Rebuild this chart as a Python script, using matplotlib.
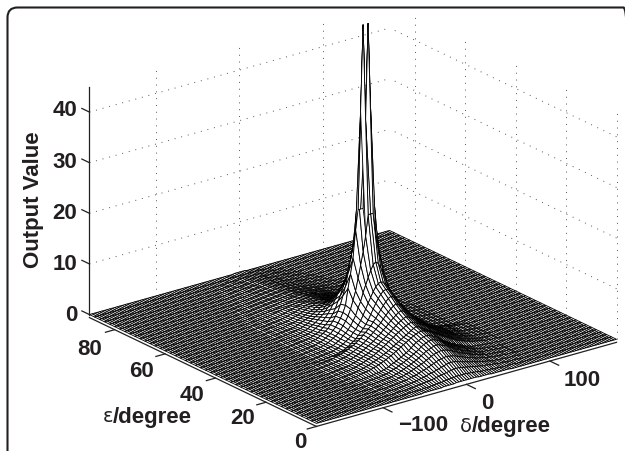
import numpy as np
import matplotlib
matplotlib.use("Agg")
from matplotlib import pyplot as plt
from matplotlib.patches import FancyBboxPatch
from matplotlib.transforms import IdentityTransform

delta_half = list(range(0, 183, 3))
eps_values = list(range(0, 92, 2))

# one row per eps, values for delta_half, each row stops where the output is flat at 0
output_rows = [
    [.3, .3, .3, .3, .3, .2, .2, .2, .2, .2, .1, .1, .1, .1, .1, .1, .1, .1],
    [.8, .8, .8, .7, .7, .6, .6, .5, .4, .4, .4, .3, .3, .2, .2, .2, .1, .1, .1, .1, .1, .1],
    [1.6, 1.6, 1.5, 1.4, 1.3, 1.2, 1.1, 1, .9, .8, .7, .6, .6, .5, .4, .4, .3, .2, .2, .2, .1, .1, .1, .1, .1],
    [2.3, 2.3, 2.2, 2, 1.9, 1.7, 1.6, 1.4, 1.3, 1.2, 1, .9, .8, .7, .6, .5, .4, .3, .3, .2, .2, .2, .1, .1, .1, .1, .1],
    [3, 2.9, 2.8, 2.7, 2.5, 2.3, 2.1, 1.9, 1.7, 1.5, 1.4, 1.2, 1, .9, .8, .7, .5, .5, .4, .3, .3, .2, .2, .2, .1, .1, .1, .1],
    [3.7, 3.6, 3.5, 3.3, 3.1, 2.8, 2.6, 2.3, 2.1, 1.9, 1.7, 1.5, 1.3, 1.1, 1, .8, .7, .6, .4, .4, .3, .3, .2, .2, .1, .1, .1, .1],
    [4.3, 4.2, 4, 3.8, 3.6, 3.3, 3, 2.7, 2.4, 2.2, 1.9, 1.7, 1.5, 1.3, 1.1, .9, .8, .6, .5, .4, .4, .3, .3, .2, .2, .1, .1, .1],
    [4.8, 4.7, 4.5, 4.3, 4, 3.6, 3.3, 3, 2.7, 2.4, 2.2, 1.9, 1.7, 1.5, 1.2, 1.1, .9, .7, .6, .5, .4, .3, .3, .2, .2, .1, .1, .1],
    [5.2, 5.1, 4.9, 4.6, 4.4, 4, 3.6, 3.2, 2.9, 2.6, 2.3, 2.1, 1.8, 1.6, 1.4, 1.1, .9, .8, .6, .5, .5, .4, .3, .3, .2, .2, .1, .1, .1],
    [5.6, 5.5, 5.3, 5.1, 4.8, 4.5, 4.2, 3.9, 3.6, 3.3, 3, 2.7, 2.4, 2.2, 1.9, 1.7, 1.5, 1.3, 1.1, 1, .8, .7, .6, .5, .4, .3, .2, .2, .1, .1, .1],
    [6, 5.8, 5.5, 5.2, 4.9, 4.6, 4.3, 4, 3.7, 3.4, 3.1, 2.8, 2.5, 2.3, 2, 1.8, 1.6, 1.4, 1.2, 1, .9, .7, .6, .5, .4, .3, .2, .2, .1, .1, .1],
    [6.4, 6.2, 6, 5.7, 5.4, 5.1, 4.8, 4.4, 4.1, 3.8, 3.4, 3.1, 2.8, 2.5, 2.2, 1.9, 1.7, 1.5, 1.3, 1.1, .9, .8, .6, .5, .4, .3, .3, .2, .2, .1, .1],
    [7, 6.8, 6.5, 6.2, 5.8, 5.4, 5, 4.6, 4.2, 3.8, 3.5, 3.1, 2.8, 2.5, 2.2, 1.9, 1.7, 1.5, 1.3, 1.1, .9, .8, .6, .5, .4, .3, .3, .2, .2, .1, .1],
    [7.7, 7.5, 7.1, 6.7, 6.3, 5.8, 5.3, 4.9, 4.4, 4, 3.6, 3.2, 2.9, 2.6, 2.3, 2, 1.8, 1.5, 1.3, 1.1, .9, .8, .7, .5, .4, .3, .3, .2, .2, .1, .1],
    [8.6, 8.3, 7.9, 7.4, 6.9, 6.3, 5.7, 5.2, 4.7, 4.2, 3.8, 3.4, 3, 2.6, 2.3, 2, 1.8, 1.5, 1.3, 1.1, .9, .8, .7, .5, .4, .3, .3, .2, .2, .1, .1],
    [9.6, 9.3, 8.8, 8.2, 7.5, 6.8, 6.1, 5.5, 4.9, 4.4, 3.9, 3.5, 3, 2.7, 2.3, 2, 1.8, 1.5, 1.3, 1.1, .9, .8, .7, .5, .4, .3, .3, .2, .2, .1, .1],
    [10.5, 10.3, 9.8, 9.1, 8.3, 7.3, 6.4, 5.4, 4.7, 4, 3.5, 2.9, 2.4, 2, 1.7, 1.3, 1.1, .8, .7, .5, .4, .3, .3, .2, .2, .1, .1],
    [11.5, 11.3, 10.8, 10, 9, 8, 7, 5.9, 5, 4.2, 3.5, 3, 2.4, 2, 1.7, 1.3, 1.1, .8, .7, .5, .4, .3, .3, .2, .2, .1, .1],
    [15, 14.6, 13.6, 12.4, 11, 9.6, 8, 6.9, 5.5, 4.6, 3.8, 3.1, 2.6, 2.2, 1.7, 1.4, 1.1, .8, .7, .6, .4, .3, .3, .2, .2, .1, .1],
    [24, 24, 20, 17, 14.5, 12, 9.6, 7.9, 6.3, 5.1, 4.2, 3.4, 2.8, 2.2, 1.8, 1.5, 1.2, .9, .7, .6, .4, .3, .3, .2, .2, .1, .1],
    [42, 61, 44, 28, 21, 15.5, 12.5, 9.8, 6.6, 5.3, 4.3, 3.5, 2.8, 2.3, 1.8, 1.5, 1.2, .9, .7, .6, .4, .3, .3, .2, .2, .1, .1],
    [24, 24, 20, 17, 14.5, 12, 9.6, 7.9, 6.3, 5.1, 4.2, 3.4, 2.8, 2.2, 1.8, 1.5, 1.2, .9, .7, .6, .4, .3, .3, .2, .2, .1, .1],
    [13.5, 13.2, 12.4, 11.4, 10.1, 8.8, 7.3, 6.3, 5, 4.1, 3.4, 2.8, 2.3, 1.9, 1.5, 1.2, 1, .8, .6, .5, .4, .3, .3, .2, .2, .1, .1],
    [10, 9.8, 9.3, 8.7, 7.9, 7, 6.1, 5.2, 4.3, 3.6, 3, 2.5, 2, 1.7, 1.4, 1.1, .9, .7, .6, .5, .4, .3, .2, .2, .2, .1, .1],
    [7.5, 7.3, 7, 6.5, 6, 5.3, 4.7, 4.1, 3.5, 3, 2.6, 2.2, 1.8, 1.5, 1.3, 1, .8, .7, .5, .4, .3, .3, .2, .2, .1, .1, .1],
    [5.5, 5.4, 5.2, 4.9, 4.5, 4.1, 3.7, 3.2, 2.9, 2.5, 2.2, 1.9, 1.6, 1.3, 1.1, .9, .7, .6, .5, .4, .3, .2, .2, .1, .1, .1],
    [4.2, 4.1, 4, 3.8, 3.6, 3.3, 3, 2.7, 2.4, 2.1, 1.8, 1.6, 1.4, 1.2, 1, .8, .6, .5, .4, .3, .3, .2, .2, .1, .1, .1],
    [3.3, 3.3, 3.2, 3, 2.9, 2.7, 2.5, 2.2, 2, 1.8, 1.6, 1.4, 1.2, 1, .8, .7, .6, .5, .4, .3, .3, .2, .2, .1, .1, .1],
    [2.8, 2.8, 2.7, 2.6, 2.5, 2.3, 2.2, 2, 1.8, 1.6, 1.4, 1.2, 1.1, .9, .8, .6, .5, .4, .4, .3, .2, .2, .2, .1, .1, .1],
    [2.4, 2.4, 2.3, 2.2, 2.1, 2, 1.9, 1.7, 1.6, 1.4, 1.2, 1.1, 1, .8, .7, .6, .5, .4, .3, .3, .2, .2, .1, .1, .1, .1],
    [2.1, 2.1, 2, 1.9, 1.9, 1.8, 1.6, 1.5, 1.4, 1.2, 1.1, 1, .8, .7, .6, .5, .4, .4, .3, .2, .2, .2, .1, .1, .1, .1],
    [1.9, 1.8, 1.8, 1.7, 1.6, 1.5, 1.4, 1.3, 1.2, 1.1, 1, .9, .8, .7, .6, .5, .4, .3, .3, .2, .2, .1, .1, .1, .1],
    [1.6, 1.6, 1.5, 1.5, 1.4, 1.3, 1.2, 1.1, 1, .9, .8, .7, .6, .5, .5, .4, .3, .3, .2, .2, .1, .1, .1, .1],
    [1.4, 1.4, 1.3, 1.3, 1.2, 1.1, 1, 1, .9, .8, .7, .6, .5, .5, .4, .3, .3, .2, .2, .1, .1, .1, .1],
    [1.2, 1.2, 1.1, 1.1, 1, 1, .9, .8, .7, .7, .6, .5, .5, .4, .3, .3, .2, .2, .1, .1, .1, .1],
    [1.1, 1, 1, 1, .9, .8, .8, .7, .6, .6, .5, .4, .4, .3, .3, .2, .2, .2, .1, .1, .1, .1],
    [.9, .9, .9, .8, .8, .7, .7, .6, .5, .5, .4, .4, .3, .3, .2, .2, .2, .1, .1, .1],
    [.8, .8, .8, .7, .7, .6, .6, .5, .5, .4, .4, .3, .3, .2, .2, .2, .1, .1, .1],
    [.7, .7, .7, .6, .6, .5, .5, .4, .4, .4, .3, .3, .2, .2, .2, .1, .1, .1],
    [.6, .6, .6, .5, .5, .5, .4, .4, .3, .3, .3, .2, .2, .2, .1, .1, .1],
    [.5, .5, .5, .4, .4, .4, .3, .3, .3, .3, .2, .2, .2, .1, .1, .1],
    [.4, .4, .4, .4, .3, .3, .3, .2, .2, .2, .2, .1, .1, .1, .1],
    [.3, .3, .3, .3, .2, .2, .2, .2, .2, .1, .1, .1, .1],
    [.2, .2, .2, .2, .2, .1, .1, .1, .1, .1],
    [.1, .1, .1, .1, .1, .1, .1],
    [.1, .1, .1],
]

delta_ticks = [-100, 0, 100]
eps_ticks = [0, 20, 40, 60, 80]
z_ticks = [0, 10, 20, 30, 40]

ink = "#231f20"
W, H = 625, 452


# build the full surface
half = np.array([r + [0] * (len(delta_half) - len(r)) for r in output_rows], dtype=float)
Z = np.hstack([half[:, :0:-1], half])
half_delta = np.array(delta_half)
delta = np.concatenate([-half_delta[:0:-1], half_delta])
X, Y = np.meshgrid(delta, eps_values)

fig = plt.figure(figsize=(W / 100, H / 100), dpi=100)

# rounded frame, runs off the right and the bottom
fig.patches.append(FancyBboxPatch((7.5, -30), 626, 473.5, boxstyle="round,pad=0,rounding_size=10",
                                  fc="none", ec=ink, lw=1.5, transform=IdentityTransform(), figure=fig))

side = 568
ax = fig.add_axes([61.3 / W, -53.7 / H, side / W, side / H], projection="3d", proj_type="ortho", computed_zorder=False)
ax.set_axis_off()
ax.patch.set_alpha(0)
ax.view_init(elev=21.5, azim=232.6)
ax.set_xlim(-180, 180, view_margin=0)
ax.set_ylim(0, 90, view_margin=0)
ax.set_zlim(0, 45, view_margin=0)
ax.set_box_aspect((378, 374, 245))

# dotted walls
dots = dict(color="#555555", lw=0.7, ls=(0, (1, 6)), zorder=1)
for d in delta_ticks:
    ax.plot([d, d], [90, 90], [0, 45], **dots)
for e in eps_ticks:
    ax.plot([180, 180], [e, e], [0, 45], **dots)
for z in z_ticks[1:]:
    ax.plot([-180, 180], [90, 90], [z, z], **dots)
    ax.plot([180, 180], [0, 90], [z, z], **dots)

ax.plot_surface(X, Y, Z, rstride=1, cstride=1, color="white", edgecolor="black", linewidth=0.62, shade=False, zorder=2)

# axis lines and ticks, a little under the mesh
solid = dict(color=ink, lw=0.9, zorder=3)
under = -0.6
ax.plot([-180, 180], [0, 0], [under, under], **solid)
ax.plot([-180, -180], [0, 90], [under, under], **solid)
ax.plot([-180, -180], [90, 90], [0, 45], **solid)
for d in delta_ticks:
    ax.plot([d, d], [0, -3.5], [under, under], **solid)
for e in eps_ticks:
    ax.plot([-180, -191], [e, e], [under, under], **solid)
for z in z_ticks:
    ax.plot([-180, -180], [90, 93], [z, z], **solid)


def label(x, y, s, **kw):
    opts = dict(color=ink, fontsize=16, fontweight="bold", family="Liberation Sans", ha="center", va="center")
    opts.update(kw)
    fig.text(x / W, 1 - y / H, s, **opts)


for s, x, y in zip(["40", "30", "20", "10", "0"], [65, 65, 65, 65, 71], [110, 162, 214, 265, 316]):
    label(x, y, s)
for s, x, y in zip(["80", "60", "40", "20", "0"], [90, 141, 192, 243, 300], [350, 372, 396, 419, 443]):
    label(x, y, s)
for s, x, y in zip(["\u2212100", "0", "100"], [423, 487, 582], [426, 404, 381]):
    label(x, y, s)

label(33, 200, "Output Value", rotation=90)
label(108, 417, "\u03b5", fontweight="normal", family="DejaVu Sans", fontsize=14)
label(113, 417, "/degree", ha="left")
label(466, 427, "\u03b4", fontweight="normal", family="DejaVu Sans", fontsize=14)
label(472, 427, "/degree", ha="left")

fig.savefig("out.png", dpi=100)
